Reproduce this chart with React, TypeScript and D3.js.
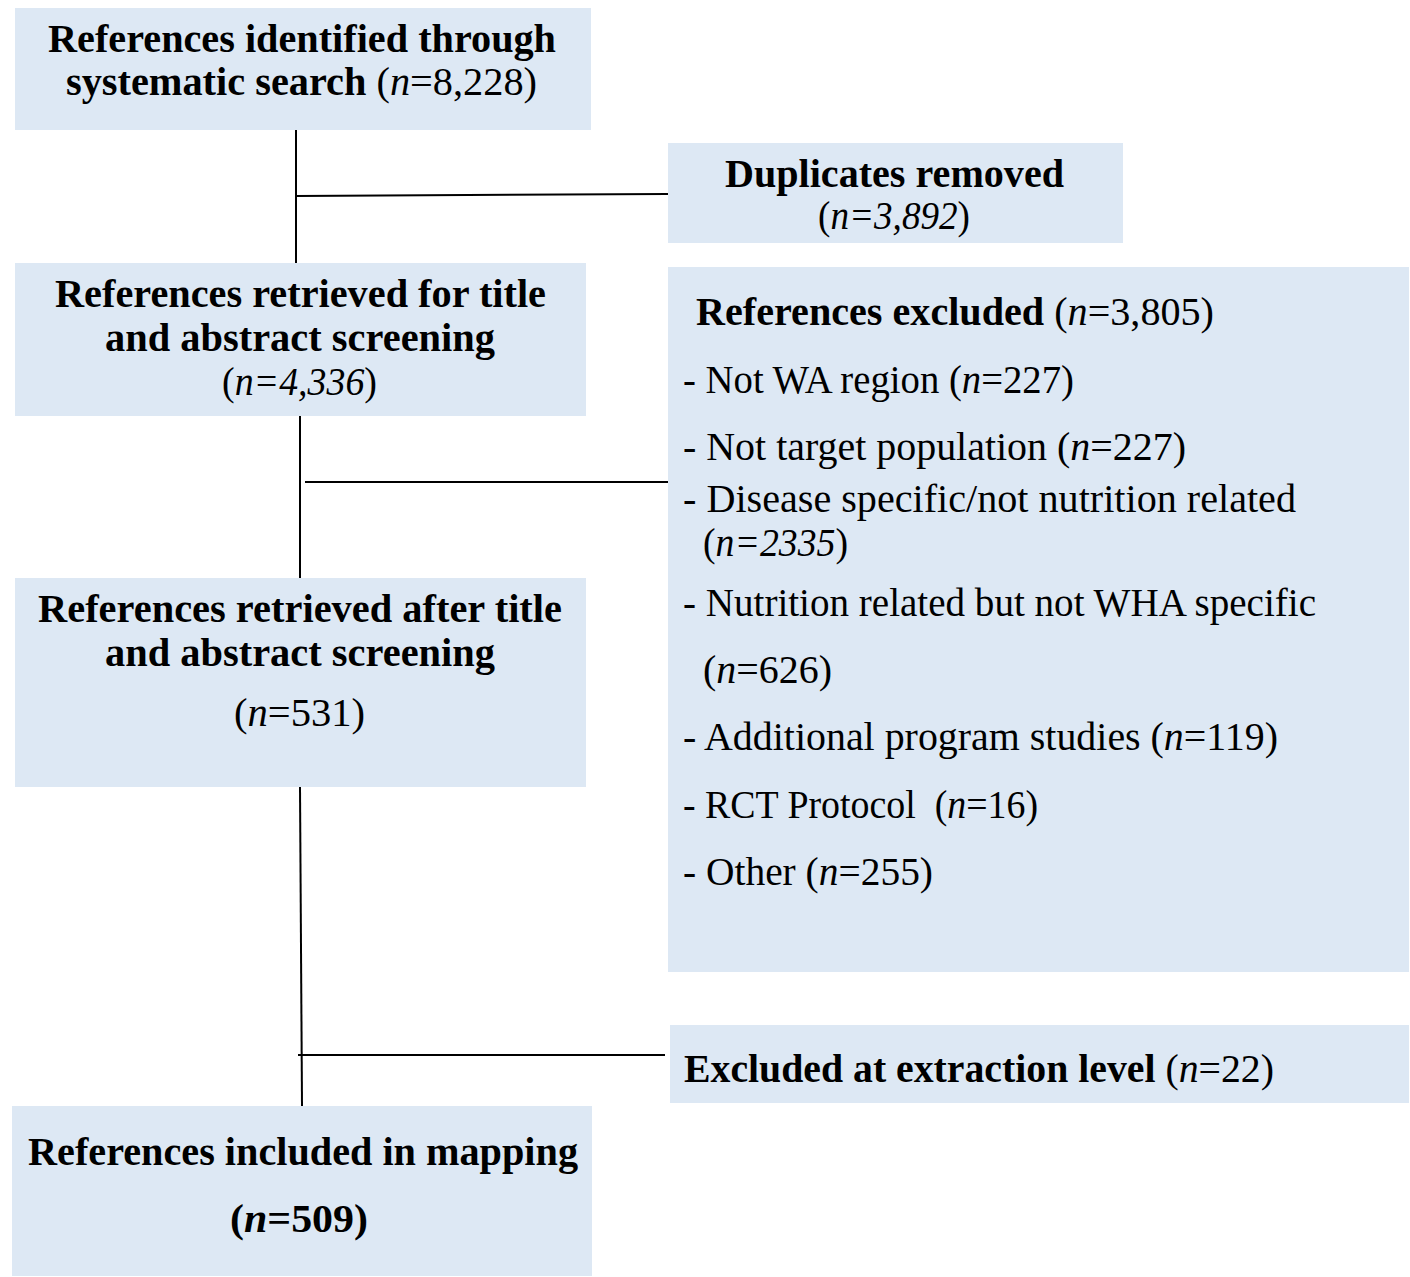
import React from "react";
import * as d3 from "d3";

// ---- data ----
const nIdentified = "8,228";
const nDuplicates = "3,892";
const nScreened = "4,336";
const nExcluded = "3,805";
const nAfterScreen = "531";
const nExtraction = "22";
const nIncluded = "509";

const exclusionReasons = [
  "Not WA region",
  "Not target population",
  "Disease specific/not nutrition related",
  "Nutrition related but not WHA specific",
  "Additional program studies",
  "RCT Protocol\u00a0",
  "Other",
];
const exclusionCounts = ["227", "227", "2335", "626", "119", "16", "255"];

type Seg = { t: string; b?: boolean; i?: boolean };

// ---- layout ----
const W = 1410;
const H = 1277;
const FILL = "#dde8f4";
const FONT = "'Liberation Serif', 'Times New Roman', serif";
const FS = 39;

type Line = { segs: Seg[]; x: number; y: number; w: number };
type Box = { x0: number; y0: number; x1: number; y1: number; lines: Line[] };

const nSeg = (v: string, italicAll = false, bold = false): Seg[] => [
  { t: "(", b: bold },
  { t: "n", i: true, b: bold },
  { t: "=" + v, i: italicAll, b: bold },
  { t: ")", b: bold },
];

const boxes: Box[] = [
  {
    x0: 15, y0: 8, x1: 591, y1: 130,
    lines: [
      { segs: [{ t: "References identified through", b: true }], x: 48, y: 52, w: 508 },
      { segs: [{ t: "systematic search ", b: true }, ...nSeg(nIdentified)], x: 66, y: 95, w: 471 },
    ],
  },
  {
    x0: 668, y0: 143, x1: 1123, y1: 243,
    lines: [
      { segs: [{ t: "Duplicates removed", b: true }], x: 725, y: 187, w: 339 },
      { segs: nSeg(nDuplicates, true), x: 818, y: 229, w: 152 },
    ],
  },
  {
    x0: 15, y0: 263, x1: 586, y1: 416,
    lines: [
      { segs: [{ t: "References retrieved for title", b: true }], x: 55, y: 307, w: 491 },
      { segs: [{ t: "and abstract screening", b: true }], x: 105, y: 351, w: 390 },
      { segs: nSeg(nScreened, true), x: 222, y: 395, w: 155 },
    ],
  },
  {
    x0: 668, y0: 267, x1: 1409, y1: 972,
    lines: [],
  },
  {
    x0: 15, y0: 578, x1: 586, y1: 787,
    lines: [
      { segs: [{ t: "References retrieved after title", b: true }], x: 38, y: 622, w: 524 },
      { segs: [{ t: "and abstract screening", b: true }], x: 105, y: 666, w: 390 },
      { segs: nSeg(nAfterScreen), x: 234, y: 726, w: 131 },
    ],
  },
  {
    x0: 670, y0: 1025, x1: 1409, y1: 1103,
    lines: [
      { segs: [{ t: "Excluded at extraction level ", b: true }, ...nSeg(nExtraction)], x: 684, y: 1082, w: 590 },
    ],
  },
  {
    x0: 12, y0: 1106, x1: 592, y1: 1276,
    lines: [
      { segs: [{ t: "References included in mapping", b: true }], x: 28, y: 1165, w: 550 },
      { segs: nSeg(nIncluded, false, true), x: 230, y: 1232, w: 138 },
    ],
  },
];

// big exclusion box content
const exclTitle: Line = {
  segs: [{ t: "References excluded ", b: true }, ...nSeg(nExcluded)],
  x: 696, y: 325, w: 518,
};
const reasonLayout: { y: number; w: number; y2?: number; w2?: number; i2?: boolean }[] = [
  { y: 393, w: 391 },
  { y: 460, w: 503 },
  { y: 512, w: 613, y2: 556, w2: 145, i2: true },
  { y: 616, w: 633, y2: 683, w2: 129 },
  { y: 750, w: 595 },
  { y: 818, w: 355 },
  { y: 885, w: 250 },
];

const exclLines: Line[] = [exclTitle];
exclusionReasons.forEach((r, k) => {
  const L = reasonLayout[k];
  if (L.y2 !== undefined) {
    exclLines.push({ segs: [{ t: "- " + r }], x: 683, y: L.y, w: L.w });
    exclLines.push({ segs: nSeg(exclusionCounts[k], !!L.i2), x: 703, y: L.y2, w: L.w2 as number });
  } else {
    exclLines.push({ segs: [{ t: "- " + r + " " }, ...nSeg(exclusionCounts[k])], x: 683, y: L.y, w: L.w });
  }
});

// connectors
const connectors: [number, number, number, number][] = [
  [296, 130, 296, 263],
  [296, 196, 668, 194],
  [300, 416, 300, 578],
  [305, 482, 668, 482],
  [300, 787, 302, 1106],
  [298, 1055, 665, 1055],
];

function TextLine({ l }: { l: Line }) {
  return (
    <text
      x={l.x}
      y={l.y}
      fontFamily={FONT}
      fontSize={FS}
      fill="#000"
      textLength={l.w}
      lengthAdjust="spacingAndGlyphs"
      style={{ whiteSpace: "pre" }}
    >
      {l.segs.map((s, k) => (
        <tspan key={k} fontWeight={s.b ? "bold" : "normal"} fontStyle={s.i ? "italic" : "normal"}>
          {s.t}
        </tspan>
      ))}
    </text>
  );
}

export default function App() {
  const line = d3.line<[number, number]>();
  return (
    <svg
      width={W}
      height={H}
      viewBox={`0 0 ${W} ${H}`}
      style={{ position: "absolute", left: 0, top: 0, background: "#fff" }}
    >
      {boxes.map((b, k) => (
        <rect key={"r" + k} x={b.x0} y={b.y0} width={b.x1 - b.x0} height={b.y1 - b.y0} fill={FILL} />
      ))}
      {connectors.map((c, k) => (
        <path
          key={"c" + k}
          d={line([[c[0], c[1]], [c[2], c[3]]]) || ""}
          stroke="#000"
          strokeWidth={2}
          fill="none"
        />
      ))}
      {boxes.flatMap((b, k) => b.lines.map((l, j) => <TextLine key={`t${k}-${j}`} l={l} />))}
      {exclLines.map((l, j) => (
        <TextLine key={"e" + j} l={l} />
      ))}
    </svg>
  );
}
